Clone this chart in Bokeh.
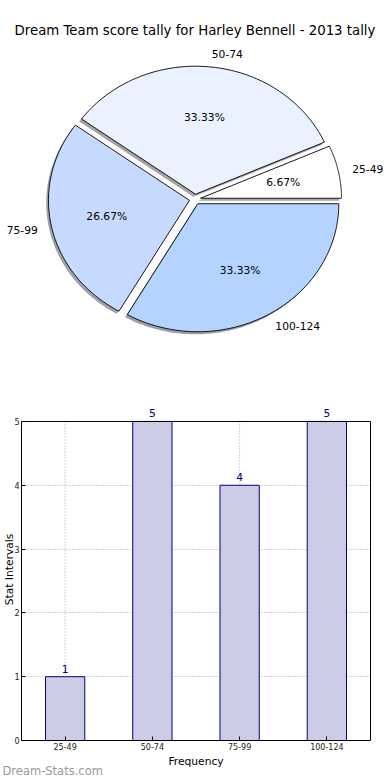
import numpy as np
from bokeh.plotting import figure
from bokeh.models import (Range1d, ColumnDataSource, Label, LabelSet, FactorRange,
                          FixedTicker, LinearAxis, Title)
from bokeh.embed import file_html
from bokeh.resources import INLINE
from bokeh.core.properties import value

# ---- data ----
title = "Dream Team score tally for Harley Bennell - 2013 tally"
categories = ["25-49", "50-74", "75-99", "100-124"]
counts = [1, 5, 4, 5]
y_ticks = [0, 1, 2, 3, 4, 5]
x_label = "Frequency"
y_label = "Stat Intervals"
watermark = "Dream-Stats.com"

# ---- style ----
pie_colors = ["#ffffff", "#eaf2ff", "#c6d9ff", "#b4d4ff"]
FONT = "DejaVu Sans"
explode = 0.04
W = 388

total = sum(counts)
fracs = np.array(counts, dtype=float) / total
ends = np.cumsum(fracs) * 2 * np.pi
starts = ends - fracs * 2 * np.pi
mids = (starts + ends) / 2


def shade(hexcol):
    h = hexcol.lstrip("#")
    r, g, b = (int(h[i:i + 2], 16) for i in (0, 2, 4))
    return "#%02x%02x%02x" % (int(r * 0.3), int(g * 0.3), int(b * 0.3))


# ---- pie ----
pie = figure(width=W, height=350, x_range=Range1d(-1.37943, 1.37234),
             y_range=Range1d(-1.18125, 1.55313), output_backend="svg",
             toolbar_location=None, min_border=0)
pie.axis.visible = False
pie.grid.visible = False
pie.outline_line_color = None

xs, ys, sxs, sys_ = [], [], [], []
for a0, a1, m in zip(starts, ends, mids):
    t = np.linspace(a0, a1, 90)
    ox, oy = explode * np.cos(m), explode * np.sin(m)
    px = np.concatenate([[ox], ox + np.cos(t)])
    py = np.concatenate([[oy], oy + np.sin(t)])
    xs.append(px)
    ys.append(py)
    sxs.append(px - 0.016)
    sys_.append(py - 0.02)

pie.patches(xs=sxs, ys=sys_, fill_color=[shade(c) for c in pie_colors],
            fill_alpha=0.5, line_color=None)
pie.patches(xs=xs, ys=ys, fill_color=pie_colors, line_color="black", line_width=0.9)

lab_r = explode + 1.1
pct_r = explode + 0.6
lab_src = ColumnDataSource(dict(
    x=lab_r * np.cos(mids), y=lab_r * np.sin(mids), t=categories,
    align=["left" if np.cos(m) > 0 else "right" for m in mids]))
pie.text(x="x", y="y", text="t", text_align="align", text_baseline="middle",
         text_font=value(FONT), text_font_size="10.7px", text_color="black",
         source=lab_src)
pct_src = ColumnDataSource(dict(
    x=pct_r * np.cos(mids), y=pct_r * np.sin(mids),
    t=["%.2f%%" % (f * 100) for f in fracs]))
pie.text(x="x", y="y", text="t", text_align="center", text_baseline="middle",
         text_font=value(FONT), text_font_size="10.7px", text_color="black",
         source=pct_src)
pie.add_layout(Label(x=0, y=1.31875, text=title, text_align="center",
                     text_baseline="middle", text_font=FONT,
                     text_font_size="13.3px", text_color="black"))

# ---- bars ----
top = max(y_ticks)
bar = figure(width=W, height=428, x_range=FactorRange(*categories, range_padding=0),
             y_range=Range1d(0, 5.36), output_backend="svg", toolbar_location=None,
             min_border_left=19, min_border_right=18, min_border_top=48,
             min_border_bottom=38)
bar.outline_line_color = None
bar.xgrid.visible = False
bar.ygrid.ticker = FixedTicker(ticks=y_ticks)
bar.ygrid.grid_line_color = "#a8a8a8"
bar.ygrid.grid_line_dash = "1 2"

# vertical dotted grid lines at category centres, only inside the box
bar.segment(x0=categories, y0=0, x1=categories, y1=top, line_color="#a8a8a8",
            line_dash="1 2", line_width=1)

bar.vbar(x=categories, top=counts, width=0.45, fill_color="#ccccE6",
         line_color="#000080", line_width=1)

# top edge of the box
bar.segment(x0=[0], y0=[top], x1=[len(categories)], y1=[top], line_color="black",
            line_width=1)

vsrc = ColumnDataSource(dict(x=categories, y=counts, t=[str(c) for c in counts]))
bar.add_layout(LabelSet(x="x", y="y", text="t", source=vsrc, text_align="center",
                        text_baseline="alphabetic", y_offset=4, text_color="#000080",
                        text_font=value(FONT), text_font_size=value("10.7px")))

right_axis = LinearAxis(ticker=FixedTicker(ticks=[]), bounds=(0, top))
bar.add_layout(right_axis, "right")

for ax in (bar.xaxis[0], bar.yaxis[0], right_axis):
    ax.axis_line_color = "black"
    ax.axis_line_width = 1
    ax.major_tick_in = 4
    ax.major_tick_out = 0
    ax.minor_tick_line_color = None
    ax.major_tick_line_color = "black"
for ax in (bar.xaxis[0], bar.yaxis[0]):
    ax.major_label_text_font = FONT
    ax.major_label_text_font_size = "8px"
    ax.major_label_text_color = "#222222"
    ax.major_label_standoff = 2
    ax.axis_label_text_font = FONT
    ax.axis_label_text_font_size = "10.7px"
    ax.axis_label_text_font_style = "normal"
    ax.axis_label_text_color = "black"
    ax.axis_label_standoff = 2
bar.yaxis[0].axis_label_standoff = -5
bar.xaxis[0].axis_label = x_label
bar.yaxis[0].axis_label = y_label
bar.yaxis[0].ticker = FixedTicker(ticks=y_ticks)
bar.yaxis[0].bounds = (0, top)

bar.add_layout(Title(text=watermark, align="left", offset=-19, standoff=-14,
                     vertical_align="top",
                     text_color="#999999", text_font=FONT, text_font_size="11.5px",
                     text_font_style="normal"), "below")

open("out.html", "w").write(file_html([pie, bar], INLINE))
